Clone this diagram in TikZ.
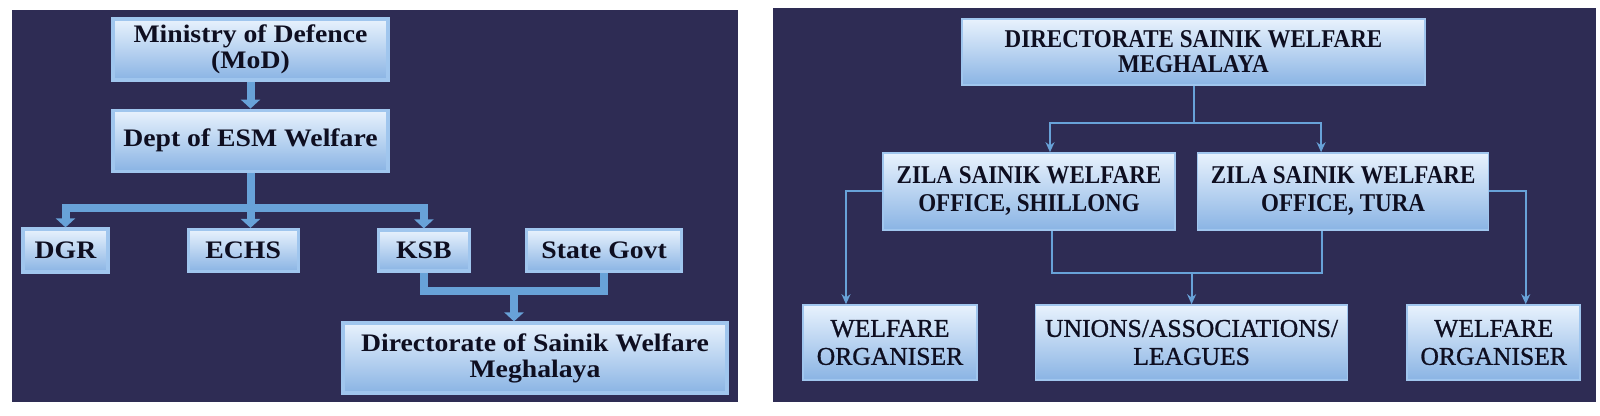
\documentclass[tikz,border=0pt]{standalone}
\usepackage{fontspec}
\setmainfont{Liberation Serif}
\newfontfamily\wideserif[FakeStretch=1.1]{Liberation Serif}
\newfontfamily\narrowserif[FakeStretch=0.9]{Liberation Serif}
\newfontfamily\plainserif[FakeBold=1]{Liberation Serif}
\usetikzlibrary{arrows.meta,calc,positioning}

\definecolor{panelbg}{RGB}{46,44,84}
\definecolor{boxtop}{RGB}{232,242,253}
\definecolor{boxbot}{RGB}{138,180,228}
\definecolor{boxrim}{RGB}{160,198,238}
\definecolor{linkblue}{RGB}{104,162,216}
\definecolor{inkdark}{RGB}{14,14,32}

\begin{document}
\begin{tikzpicture}[
    x=0.5pt, y=-0.5pt,
    node distance=13.5pt and 38.5pt,
    box/.style={
        rectangle,
        draw=boxrim,
        top color=boxtop,
        bottom color=boxbot,
        align=center,
        text=inkdark,
        inner sep=2pt
    },
    lbox/.style={box, line width=1.6pt, font=\fontsize{12.6pt}{13pt}\wideserif\bfseries},
    rtop/.style={box, line width=0.8pt, font=\fontsize{12.8pt}{12.5pt}\narrowserif\bfseries},
    rmid/.style={box, line width=0.8pt, font=\fontsize{12.8pt}{14pt}\narrowserif\bfseries},
    rlow/.style={box, line width=0.8pt, font=\fontsize{12.8pt}{14pt}\plainserif},
    fatline/.style={draw=linkblue, line width=4pt, line join=miter},
    fat/.style={fatline, -{Triangle[width=9.5pt,length=4.5pt]}},
    link/.style={draw=linkblue, line width=1pt},
    arrow/.style={link, -{Stealth[length=5pt,width=4.5pt]}}
]

    % --- PAGE AND PANELS ---
    \fill[white] (0,0) rectangle (1600,416);
    \useasboundingbox (0,0) rectangle (1600,416);
    \fill[panelbg] (12,10) rectangle (738,402);
    \fill[panelbg] (773,8) rectangle (1596,402);

    % --- LEFT PANEL ---
    \node[lbox, minimum width=137.5pt, minimum height=30.5pt] (mod) at (250.5,49.5) {Ministry of Defence\\(MoD)};
    \node[lbox, minimum width=137.5pt, minimum height=30.5pt, below=13.5pt of mod] (dept) {Dept of ESM Welfare};

    % Tier 2
    \node[lbox, minimum width=42.5pt, minimum height=21.5pt] (dgr) at (65.5,250.5) {DGR};
    \node[lbox, minimum width=55pt, minimum height=21pt, right=38.5pt of dgr] (echs) {ECHS};
    \node[lbox, minimum width=45.5pt, minimum height=20.5pt, right=38.5pt of echs] (ksb) {KSB};
    \node[lbox, minimum width=77.5pt, minimum height=21pt, right=27pt of ksb] (sgov) {State Govt};

    % Tier 3
    \node[lbox, minimum width=192pt, minimum height=35pt] (dsw) at (535,358) {Directorate of Sainik Welfare\\Meghalaya};

    % --- RIGHT PANEL ---
    \node[rtop, minimum width=231.5pt, minimum height=33pt] (dswm) at (1193.5,52) {DIRECTORATE SAINIK WELFARE\\MEGHALAYA};

    % Zila offices
    \node[rmid, minimum width=146pt, minimum height=38.5pt] (zsws) at (1029,191.5) {ZILA SAINIK WELFARE\\OFFICE, SHILLONG};
    \node[rmid, minimum width=145.5pt, minimum height=38.5pt, right=10.5pt of zsws] (zswt) {ZILA SAINIK WELFARE\\OFFICE, TURA};

    % Bottom row
    \node[rlow, minimum width=87pt, minimum height=37.5pt] (wol) at (890,342.5) {WELFARE\\ORGANISER};
    \node[rlow, minimum width=156pt, minimum height=37.5pt, right=28.5pt of wol] (ual) {UNIONS/ASSOCIATIONS/\\LEAGUES};
    \node[rlow, minimum width=86.5pt, minimum height=37.5pt, right=29pt of ual] (wor) {WELFARE\\ORGANISER};

    % --- CONNECTIONS ---
    % Left panel
    \draw[fat] (mod.south) -- (dept.north);
    \draw[fat] (dept.south) -- ++(0,35) -| (dgr.north);
    \draw[fat] (dept.south) -- (dept.south |- echs.north);
    \draw[fat] (dept.south) -- ++(0,35) -| (ksb.north);
    \draw[fatline] (ksb.south) -- ++(0,18) coordinate (kj) -| (sgov.south);
    \coordinate (kmid) at ($(kj)!0.5!(kj -| sgov.south)$);
    \draw[fat] (kmid) -- (kmid |- dsw.north);

    % Right panel
    \draw[arrow] (dswm.south) -- ++(0,37) -| ([xshift=10.5pt]zsws.north);
    \draw[arrow] (dswm.south) -- ++(0,37) -| ([xshift=-11pt]zswt.north);
    \draw[arrow] (zsws.west) -| ([xshift=-22pt]wol.north);
    \draw[arrow] (zswt.east) -| ([xshift=16pt]wor.north);
    \draw[link] ([xshift=11.5pt]zsws.south) -- ++(0,42) coordinate (uj) -| ([xshift=-10.75pt]zswt.south);
    \draw[arrow] (uj -| ual.north) -- (ual.north);

\end{tikzpicture}
\end{document}
